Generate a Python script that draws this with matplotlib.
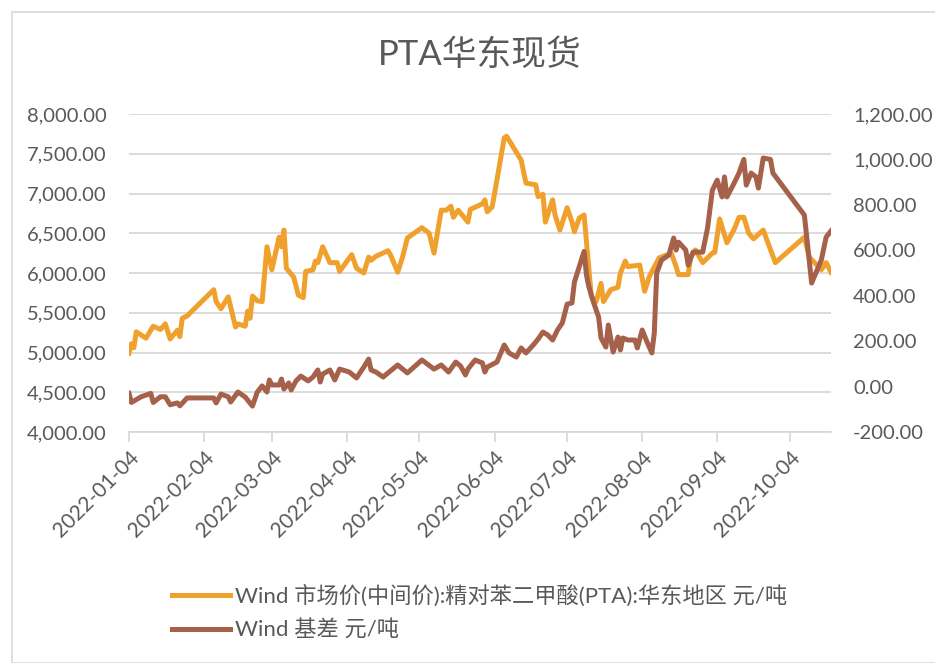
import pandas as pd
import matplotlib
matplotlib.use('Agg')
import matplotlib.pyplot as plt
import matplotlib.dates as mdates
from matplotlib.patches import Rectangle
from matplotlib.ticker import FuncFormatter

plt.rcParams['font.family'] = ['Lato', 'Noto Sans CJK SC', 'DejaVu Sans']

title = 'PTA华东现货'
label_price = 'Wind 市场价(中间价):精对苯二甲酸(PTA):华东地区 元/吨'
label_basis = 'Wind 基差 元/吨'

# PTA spot price (left axis)
price_dates = ['2022-01-04', '2022-01-05', '2022-01-06', '2022-01-07', '2022-01-11', '2022-01-14',
               '2022-01-17', '2022-01-19', '2022-01-21', '2022-01-24', '2022-01-25', '2022-01-26',
               '2022-01-28', '2022-02-08', '2022-02-09', '2022-02-11', '2022-02-14', '2022-02-17',
               '2022-02-18', '2022-02-21', '2022-02-22', '2022-02-23', '2022-02-24', '2022-02-26',
               '2022-02-28', '2022-03-02', '2022-03-04', '2022-03-07', '2022-03-08', '2022-03-09',
               '2022-03-10', '2022-03-13', '2022-03-15', '2022-03-17', '2022-03-18', '2022-03-21',
               '2022-03-22', '2022-03-23', '2022-03-25', '2022-03-28', '2022-03-31', '2022-04-01',
               '2022-04-06', '2022-04-08', '2022-04-11', '2022-04-13', '2022-04-14', '2022-04-16',
               '2022-04-21', '2022-04-22', '2022-04-25', '2022-04-27', '2022-04-29', '2022-05-05',
               '2022-05-08', '2022-05-10', '2022-05-13', '2022-05-15', '2022-05-17', '2022-05-18',
               '2022-05-20', '2022-05-24', '2022-05-25', '2022-05-30', '2022-05-31', '2022-06-01',
               '2022-06-03', '2022-06-05', '2022-06-08', '2022-06-09', '2022-06-15', '2022-06-17',
               '2022-06-21', '2022-06-22', '2022-06-24', '2022-06-25', '2022-06-28', '2022-06-29',
               '2022-07-01', '2022-07-04', '2022-07-06', '2022-07-07', '2022-07-09', '2022-07-11',
               '2022-07-14', '2022-07-16', '2022-07-18', '2022-07-19', '2022-07-22', '2022-07-25',
               '2022-07-26', '2022-07-28', '2022-07-29', '2022-08-03', '2022-08-05', '2022-08-07',
               '2022-08-11', '2022-08-16', '2022-08-18', '2022-08-19', '2022-08-23', '2022-08-24',
               '2022-08-26', '2022-08-29', '2022-09-02', '2022-09-03', '2022-09-05', '2022-09-08',
               '2022-09-11', '2022-09-13', '2022-09-15', '2022-09-17', '2022-09-19', '2022-09-23',
               '2022-09-28', '2022-10-10', '2022-10-12', '2022-10-17', '2022-10-19', '2022-10-21']
price_values = [4990, 5110, 5060, 5260, 5180, 5330,
                5290, 5360, 5170, 5280, 5200, 5430,
                5460, 5790, 5640, 5550, 5700, 5320,
                5360, 5330, 5520, 5430, 5710, 5650,
                5640, 6330, 6040, 6450, 6330, 6540,
                6060, 5950, 5720, 5690, 6020, 6040,
                6150, 6130, 6330, 6130, 6130, 6020,
                6230, 6060, 6000, 6200, 6160, 6210,
                6280, 6230, 6010, 6200, 6440, 6570,
                6500, 6250, 6790, 6790, 6840, 6700,
                6790, 6640, 6800, 6870, 6920, 6770,
                6830, 7170, 7700, 7720, 7420, 7130,
                7110, 6960, 6990, 6640, 6920, 6730,
                6540, 6820, 6640, 6520, 6690, 6730,
                5700, 5640, 5870, 5640, 5790, 5820,
                6000, 6150, 6080, 6100, 5770, 5960,
                6190, 6250, 6080, 5980, 5980, 6200,
                6290, 6130, 6250, 6260, 6680, 6380,
                6550, 6700, 6700, 6500, 6430, 6540,
                6130, 6450, 6200, 6040, 6130, 6010]

# basis (right axis)
basis_dates = ['2022-01-04', '2022-01-05', '2022-01-09', '2022-01-13', '2022-01-14', '2022-01-17',
               '2022-01-19', '2022-01-21', '2022-01-24', '2022-01-25', '2022-01-28', '2022-02-08',
               '2022-02-09', '2022-02-11', '2022-02-14', '2022-02-15', '2022-02-18', '2022-02-21',
               '2022-02-24', '2022-02-26', '2022-02-28', '2022-03-02', '2022-03-03', '2022-03-04',
               '2022-03-07', '2022-03-08', '2022-03-09', '2022-03-11', '2022-03-12', '2022-03-14',
               '2022-03-16', '2022-03-19', '2022-03-21', '2022-03-23', '2022-03-24', '2022-03-25',
               '2022-03-28', '2022-03-30', '2022-04-01', '2022-04-05', '2022-04-08', '2022-04-11',
               '2022-04-13', '2022-04-14', '2022-04-16', '2022-04-19', '2022-04-21', '2022-04-25',
               '2022-04-29', '2022-05-05', '2022-05-10', '2022-05-13', '2022-05-16', '2022-05-19',
               '2022-05-21', '2022-05-23', '2022-05-24', '2022-05-27', '2022-05-30', '2022-05-31',
               '2022-06-01', '2022-06-05', '2022-06-08', '2022-06-10', '2022-06-13', '2022-06-15',
               '2022-06-17', '2022-06-20', '2022-06-22', '2022-06-24', '2022-06-26', '2022-06-28',
               '2022-06-30', '2022-07-02', '2022-07-04', '2022-07-06', '2022-07-07', '2022-07-11',
               '2022-07-12', '2022-07-13', '2022-07-15', '2022-07-17', '2022-07-18', '2022-07-20',
               '2022-07-21', '2022-07-23', '2022-07-25', '2022-07-26', '2022-07-27', '2022-07-29',
               '2022-08-01', '2022-08-02', '2022-08-04', '2022-08-06', '2022-08-08', '2022-08-09',
               '2022-08-10', '2022-08-12', '2022-08-15', '2022-08-17', '2022-08-18', '2022-08-19',
               '2022-08-22', '2022-08-23', '2022-08-25', '2022-08-29', '2022-08-31', '2022-09-02',
               '2022-09-04', '2022-09-06', '2022-09-07', '2022-09-08', '2022-09-11', '2022-09-13',
               '2022-09-15', '2022-09-16', '2022-09-18', '2022-09-20', '2022-09-21', '2022-09-23',
               '2022-09-26', '2022-09-27', '2022-10-10', '2022-10-13', '2022-10-17', '2022-10-19',
               '2022-10-21']
basis_values = [-30, -70, -45, -30, -70, -45,
                -45, -80, -72, -85, -50, -50,
                -72, -33, -45, -68, -24, -46,
                -86, -24, 3, -24, 29, 7,
                7, 33, -11, 16, -15, 25,
                46, 25, 42, 73, 20, 55,
                73, 29, 77, 64, 38, 86,
                121, 73, 64, 42, 60, 95,
                60, 117, 77, 95, 64, 108,
                90, 51, 77, 117, 104, 64,
                86, 108, 183, 148, 130, 170,
                148, 183, 209, 240, 227, 205,
                249, 280, 363, 368, 460, 595,
                490, 438, 368, 306, 214, 174,
                271, 152, 218, 161, 214, 205,
                205, 170, 249, 196, 148, 236,
                500, 557, 579, 654, 601, 636,
                601, 535, 592, 592, 698, 865,
                909, 835, 923, 835, 896, 940,
                1000, 887, 940, 923, 874, 1006,
                1000, 940, 755, 456, 557, 658,
                685]

tick_dates = ['2022-01-04', '2022-02-04', '2022-03-04', '2022-04-04', '2022-05-04',
              '2022-06-04', '2022-07-04', '2022-08-04', '2022-09-04', '2022-10-04']

orange = '#F0A12D'
brown = '#A6614A'
grey_text = '#595959'
grid_col = '#D9D9D9'

fig = plt.figure(figsize=(9.35, 6.63), dpi=100)
fig.patches.append(Rectangle((12 / 935, 0), 1, 1 - 12 / 663, transform=fig.transFigure,
                             fill=False, edgecolor=grid_col, lw=1.2))

ax = fig.add_axes([129 / 935, 1 - 432 / 663, (831 - 129) / 935, (432 - 114) / 663])
ax2 = ax.twinx()

l1, = ax.plot(pd.to_datetime(price_dates), price_values, color=orange, lw=3.6,
              solid_joinstyle='round', label=label_price)
l2, = ax2.plot(pd.to_datetime(basis_dates), basis_values, color=brown, lw=3.6,
               solid_joinstyle='round', label=label_basis)

ax.set_ylim(4000, 8000)
ax.set_yticks(range(4000, 8001, 500))
ax2.set_ylim(-200, 1200)
ax2.set_yticks(range(-200, 1201, 200))
fmt = FuncFormatter(lambda v, p: f'{v:,.2f}')
ax.yaxis.set_major_formatter(fmt)
ax2.yaxis.set_major_formatter(fmt)

ax.set_xlim(pd.Timestamp('2022-01-04'), pd.Timestamp('2022-10-21'))
ax.set_xticks(pd.to_datetime(tick_dates))
ax.xaxis.set_major_formatter(mdates.DateFormatter('%Y-%m-%d'))
for lab in ax.get_xticklabels():
    lab.set_rotation(45)
    lab.set_ha('right')
    lab.set_rotation_mode('anchor')

ax.grid(axis='y', color=grid_col, lw=1.3)
ax.set_axisbelow(True)
for s in ['top', 'right', 'left']:
    ax.spines[s].set_visible(False)
    ax2.spines[s].set_visible(False)
ax2.spines['bottom'].set_visible(False)
ax.spines['bottom'].set_color(grid_col)
ax.spines['bottom'].set_linewidth(1.3)

ax.tick_params(axis='y', length=0, labelsize=14.5, labelcolor=grey_text, pad=16)
ax2.tick_params(axis='y', length=0, labelsize=14.5, labelcolor=grey_text, pad=16)
ax.tick_params(axis='x', length=7, width=1.3, color=grid_col, labelsize=15,
               labelcolor=grey_text, pad=4)

fig.text(480 / 935, 1 - 55 / 663, title, ha='center', va='center', fontsize=25, color=grey_text)

fig.legend(handles=[l1, l2], loc='upper left', bbox_to_anchor=(163 / 935, 1 - 576 / 663),
           frameon=False, fontsize=16, labelcolor=grey_text, handlelength=2.6,
           handletextpad=0.25, labelspacing=0.55, borderaxespad=0)

fig.savefig('out.png', dpi=100)
